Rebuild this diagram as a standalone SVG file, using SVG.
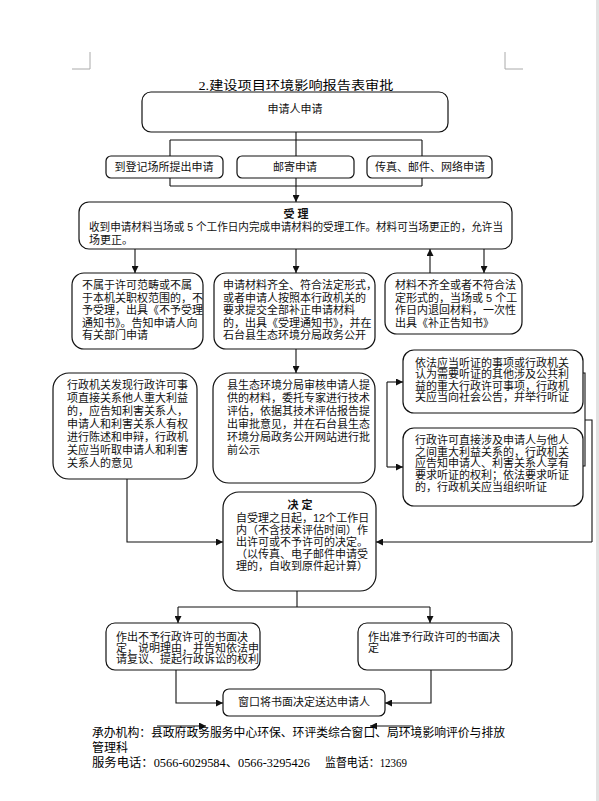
<svg xmlns="http://www.w3.org/2000/svg" width="599" height="801" viewBox="0 0 599 801">
<style>
.box{fill:#fff;stroke:#111;stroke-width:1.2}
.t{font-family:"Liberation Sans","Noto Sans CJK SC",sans-serif;font-size:11px;fill:#111}
.tb{font-family:"Liberation Sans","Noto Sans CJK SC",sans-serif;font-size:11px;font-weight:bold;fill:#111}
.ln{fill:none;stroke:#111;stroke-width:1.1}
.mark{fill:none;stroke:#aaa;stroke-width:1}
.ft{font-family:"Liberation Serif","Noto Sans CJK SC",serif;font-size:12px;fill:#000}
</style>
<defs>
<marker id="ah" viewBox="0 0 10 10" refX="10" refY="5" markerWidth="7" markerHeight="7" orient="auto" markerUnits="userSpaceOnUse">
<path d="M0,0 L10,5 L0,10 z" fill="#111"/>
</marker>
</defs>
<rect x="0" y="0" width="599" height="801" fill="#fff"/>
<rect x="596" y="0" width="3" height="801" fill="#e2e2e2"/>
<path class="mark" d="M72,69 H90 V52 M523,69 H505 V52"/>
<text x="296" y="90" text-anchor="middle" class="ft" font-size="14" textLength="195" lengthAdjust="spacingAndGlyphs">2.建设项目环境影响报告表审批</text>

<g id="connectors">
<path class="ln" d="M296,132 V140 M170,140 H422 M170,140 V186 M422,140 V186 M170,186 H422 M296,140 V156 M296,178 V186"/>
<path class="ln" d="M296,186 V202" marker-end="url(#ah)"/>
<path class="ln" d="M135,249 V273" marker-end="url(#ah)"/>
<path class="ln" d="M296,249 V273" marker-end="url(#ah)"/>
<path class="ln" d="M430,273 V249" marker-end="url(#ah)"/>
<path class="ln" d="M484,249 V273" marker-end="url(#ah)"/>
<path class="ln" d="M296,349 V373" marker-end="url(#ah)"/>
<path class="ln" d="M387,382 V467"/>
<path class="ln" d="M387,382 H403" marker-end="url(#ah)"/>
<path class="ln" d="M387,467 H403" marker-end="url(#ah)"/>
<path class="ln" d="M583,373 H585 V466 H583 M585,420 H592 V542"/>
<path class="ln" d="M592,542 H376" marker-end="url(#ah)"/>
<path class="ln" d="M127,479 V542 H223" marker-end="url(#ah)"/>
<path class="ln" d="M297,591 V607 M178,607 H430"/>
<path class="ln" d="M178,607 V623" marker-end="url(#ah)"/>
<path class="ln" d="M430,607 V623" marker-end="url(#ah)"/>
<path class="ln" d="M176,670 V703 H223" marker-end="url(#ah)"/>
<path class="ln" d="M431,670 V703 H385" marker-end="url(#ah)"/>
<path class="ln" d="M157,726 H206" marker-end="url(#ah)"/>
<path class="ln" d="M413,726 H370" marker-end="url(#ah)"/>
</g>

<g id="n-apply">
<rect class="box" x="142" y="92" width="306" height="40" rx="9"/>
<text x="295" y="113" text-anchor="middle" class="t" font-size="14">申请人申请</text>
</g>
<g id="n-site">
<rect class="box" x="106" y="156" width="117" height="22" rx="5"/>
<text x="164" y="171" text-anchor="middle" class="t">到登记场所提出申请</text>
</g>
<g id="n-mail">
<rect class="box" x="237" y="156" width="117" height="22" rx="5"/>
<text x="295" y="171" text-anchor="middle" class="t">邮寄申请</text>
</g>
<g id="n-fax">
<rect class="box" x="367" y="156" width="125" height="22" rx="5"/>
<text x="430" y="171" text-anchor="middle" class="t">传真、邮件、网络申请</text>
</g>

<g id="n-accept">
<rect class="box" x="79" y="202" width="433" height="47" rx="10"/>
<text x="296" y="218" text-anchor="middle" class="tb">受  理</text>
<text x="89" y="231" class="t" textLength="414" lengthAdjust="spacingAndGlyphs">收到申请材料当场或 5 个工作日内完成申请材料的受理工作。材料可当场更正的，允许当</text>
<text x="89" y="244" class="t">场更正。</text>
</g>

<g id="n-reject">
<rect class="box" x="72" y="273" width="131" height="76" rx="12"/>
<text class="t"><tspan x="82" y="289">不属于许可范畴或不属</tspan><tspan x="82" y="302">于本机关职权范围的，不</tspan><tspan x="82" y="314">予受理，出具《不予受理</tspan><tspan x="82" y="327">通知书》。告知申请人向</tspan><tspan x="82" y="339">有关部门申请</tspan></text>
</g>
<g id="n-complete">
<rect class="box" x="214" y="273" width="161" height="76" rx="12"/>
<text class="t"><tspan x="223" y="289">申请材料齐全、符合法定形式，</tspan><tspan x="223" y="302">或者申请人按照本行政机关的</tspan><tspan x="223" y="314">要求提交全部补正申请材料</tspan><tspan x="223" y="327">的，出具《受理通知书》，并在</tspan><tspan x="223" y="339">石台县生态环境分局政务公开</tspan></text>
</g>
<g id="n-incomplete">
<rect class="box" x="385" y="273" width="137" height="61" rx="12"/>
<text class="t"><tspan x="395" y="289">材料不齐全或者不符合法</tspan><tspan x="395" y="302">定形式的，当场或 5 个工</tspan><tspan x="395" y="314">作日内退回材料，一次性</tspan><tspan x="395" y="327">出具《补正告知书》</tspan></text>
</g>

<g id="n-interest">
<rect class="box" x="53" y="373" width="144" height="106" rx="16"/>
<text class="t" font-size="11.5"><tspan x="67" y="389">行政机关发现行政许可事</tspan><tspan x="67" y="402">项直接关系他人重大利益</tspan><tspan x="67" y="415">的，应告知利害关系人，</tspan><tspan x="67" y="428">申请人和利害关系人有权</tspan><tspan x="67" y="441">进行陈述和申辩，行政机</tspan><tspan x="67" y="454">关应当听取申请人和利害</tspan><tspan x="67" y="467">关系人的意见</tspan></text>
</g>
<g id="n-review">
<rect class="box" x="213" y="373" width="162" height="110" rx="16"/>
<text class="t"><tspan x="227" y="389">县生态环境分局审核申请人提</tspan><tspan x="227" y="402">供的材料，委托专家进行技术</tspan><tspan x="227" y="415">评估，依据其技术评估报告提</tspan><tspan x="227" y="428">出审批意见，并在石台县生态</tspan><tspan x="227" y="441">环境分局政务公开网站进行批</tspan><tspan x="227" y="454">前公示</tspan></text>
</g>
<g id="n-hearing1">
<rect class="box" x="403" y="350" width="180" height="63" rx="11"/>
<text class="t" font-size="10.7"><tspan x="415" y="367">依法应当听证的事项或行政机关</tspan><tspan x="415" y="378">认为需要听证的其他涉及公共利</tspan><tspan x="415" y="390">益的重大行政许可事项，行政机</tspan><tspan x="415" y="401">关应当向社会公告，并举行听证</tspan></text>
</g>
<g id="n-hearing2">
<rect class="box" x="403" y="428" width="180" height="78" rx="11"/>
<text class="t" font-size="10.7"><tspan x="415" y="444">行政许可直接涉及申请人与他人</tspan><tspan x="415" y="456">之间重大利益关系的，行政机关</tspan><tspan x="415" y="467">应告知申请人、利害关系人享有</tspan><tspan x="415" y="479">要求听证的权利；依法要求听证</tspan><tspan x="415" y="491">的，行政机关应当组织听证</tspan></text>
</g>

<g id="n-decide">
<rect class="box" x="223" y="492" width="153" height="99" rx="16"/>
<text x="300" y="509" text-anchor="middle" class="tb" font-size="11.5">决  定</text>
<text class="t" font-size="11.5"><tspan x="236" y="522">自受理之日起，12个工作日</tspan><tspan x="236" y="534">内（不含技术评估时间）作</tspan><tspan x="236" y="546">出许可或不予许可的决定。</tspan><tspan x="236" y="558">（以传真、电子邮件申请受</tspan><tspan x="236" y="570">理的，自收到原件起计算）</tspan></text>
</g>

<g id="n-deny">
<rect class="box" x="106" y="623" width="154" height="47" rx="9"/>
<text class="t" font-size="10.8"><tspan x="116" y="641">作出不予行政许可的书面决</tspan><tspan x="116" y="652">定，说明理由，并告知依法申</tspan><tspan x="116" y="663">请复议、提起行政诉讼的权利</tspan></text>
</g>
<g id="n-grant">
<rect class="box" x="358" y="623" width="154" height="47" rx="9"/>
<text class="t" font-size="10.8"><tspan x="368" y="641">作出准予行政许可的书面决</tspan><tspan x="368" y="652">定</tspan></text>
</g>
<g id="n-deliver">
<rect class="box" x="223" y="689" width="162" height="27" rx="6"/>
<text x="304" y="706" text-anchor="middle" class="t">窗口将书面决定送达申请人</text>
</g>

<text x="92" y="737" class="ft" textLength="413" lengthAdjust="spacingAndGlyphs">承办机构：县政府政务服务中心环保、环评类综合窗口、局环境影响评价与排放</text>
<text x="92" y="752" class="ft">管理科</text>
<text x="92" y="767" class="ft"><tspan textLength="218" lengthAdjust="spacingAndGlyphs">服务电话：0566-6029584、0566-3295426</tspan><tspan x="325" textLength="82" lengthAdjust="spacingAndGlyphs">监督电话：12369</tspan></text>
</svg>
